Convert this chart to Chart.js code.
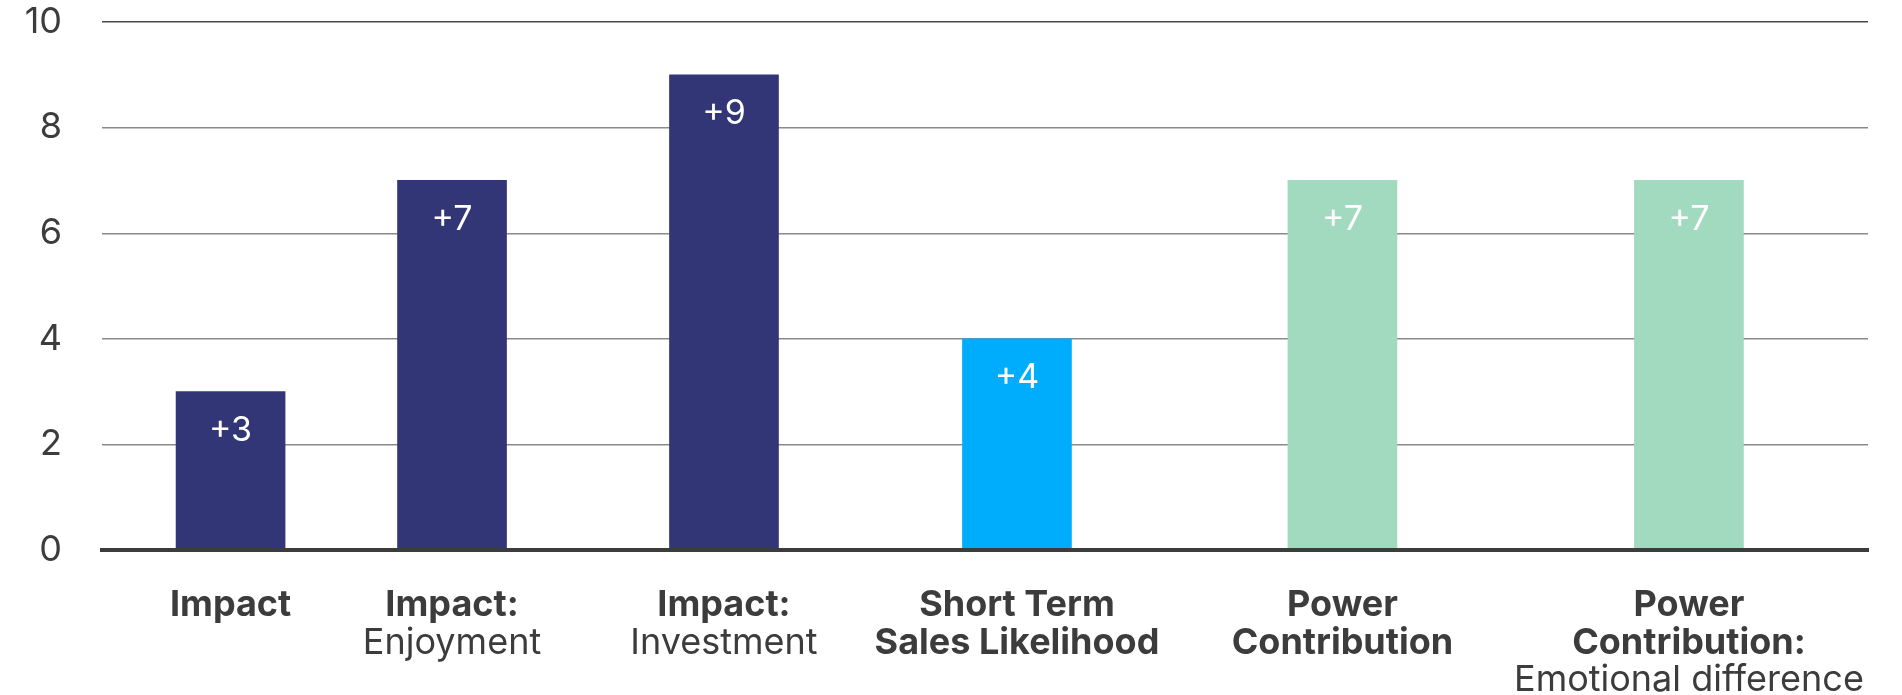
<!DOCTYPE html>
<html>
<head>
<meta charset="utf-8">
<script src="https://cdn.jsdelivr.net/npm/chart.js@4"></script>
<style>
  html, body { margin: 0; padding: 0; background: #ffffff; }
  #wrap { width: 1902px; height: 695px; position: relative; }
</style>
</head>
<body>
<div id="wrap"><canvas id="chart"></canvas></div>
<script>
// ---- data ----
const categoryTitles = [
  ['Impact'],
  ['Impact:'],
  ['Impact:'],
  ['Short Term', 'Sales Likelihood'],
  ['Power', 'Contribution'],
  ['Power', 'Contribution:']
];
const categorySubtitles = [
  [],
  ['Enjoyment'],
  ['Investment'],
  [],
  [],
  ['Emotional difference']
];
const upliftValues = [3, 7, 9, 4, 7, 7];
const valueLabels = ['+3', '+7', '+9', '+4', '+7', '+7'];
const metricGroups = ['impact', 'impact', 'impact', 'sales', 'power', 'power'];
const yTicks = [0, 2, 4, 6, 8, 10];

// ---- look & layout ----
const groupColors = { impact: '#323676', sales: '#00adfd', power: '#a1dabf' };
// column centres along a 0–100 horizontal scale
const columnSlots = [7.28, 19.82, 35.22, 51.81, 70.24, 89.86];
const FONT = 'Inter, "Open Sans", sans-serif';
const TEXT = '#3c3c3c';

const points = upliftValues.map((v, i) => ({ x: columnSlots[i], y: v }));

const valueLabelPlugin = {
  id: 'valueLabels',
  afterDatasetsDraw(chart) {
    const ctx = chart.ctx;
    const meta = chart.getDatasetMeta(0);
    ctx.save();
    ctx.fillStyle = '#ffffff';
    ctx.font = '34px ' + FONT;
    ctx.textAlign = 'center';
    ctx.textBaseline = 'middle';
    meta.data.forEach((bar, i) => {
      ctx.fillText(valueLabels[i], bar.x, bar.y + 39);
    });
    ctx.restore();
  }
};

const categoryLabelPlugin = {
  id: 'categoryLabels',
  afterDraw(chart) {
    const ctx = chart.ctx;
    const xs = chart.scales.x;
    const base = chart.chartArea.bottom + 66;
    const lh = 37.5;
    ctx.save();
    ctx.fillStyle = TEXT;
    ctx.textAlign = 'center';
    ctx.textBaseline = 'alphabetic';
    columnSlots.forEach((slot, i) => {
      const x = xs.getPixelForValue(slot);
      let line = 0;
      ctx.font = 'bold 36px ' + FONT;
      categoryTitles[i].forEach(t => { ctx.fillText(t, x, base + lh * line++); });
      ctx.font = '36px ' + FONT;
      categorySubtitles[i].forEach(t => { ctx.fillText(t, x, base + lh * line++); });
    });
    ctx.restore();
  }
};

new Chart(document.getElementById('chart'), {
  type: 'bar',
  data: {
    datasets: [{
      data: points,
      backgroundColor: metricGroups.map(g => groupColors[g]),
      borderWidth: 0,
      barThickness: 109
    }]
  },
  options: {
    responsive: true,
    maintainAspectRatio: false,
    animation: false,
    layout: { padding: { top: 22, right: 34, bottom: 0, left: 0 } },
    plugins: { legend: { display: false }, tooltip: { enabled: false } },
    scales: {
      x: {
        type: 'linear',
        offset: false,
        min: 0,
        max: 100,
        ticks: { display: false },
        grid: { display: false, drawTicks: false },
        border: { display: true, color: '#3c3c3c', width: 4, z: 1 },
        afterFit(scale) { scale.height = 145; scale.paddingLeft = 0; scale.paddingRight = 0; }
      },
      y: {
        min: 0,
        max: 10,
        afterBuildTicks(scale) { scale.ticks = yTicks.map(v => ({ value: v })); },
        ticks: {
          color: TEXT,
          font: { family: FONT, size: 36 },
          padding: 40
        },
        grid: {
          drawTicks: false,
          lineWidth: 1.4,
          color: ctx => ctx.tick.value === 0 ? 'rgba(0,0,0,0)' : (ctx.tick.value === 10 ? '#4a4a4a' : '#8a8a8a')
        },
        border: { display: false },
        afterFit(scale) { scale.width = 102; scale.paddingTop = 0; scale.paddingBottom = 0; }
      }
    }
  },
  plugins: [valueLabelPlugin, categoryLabelPlugin]
});
</script>
</body>
</html>
